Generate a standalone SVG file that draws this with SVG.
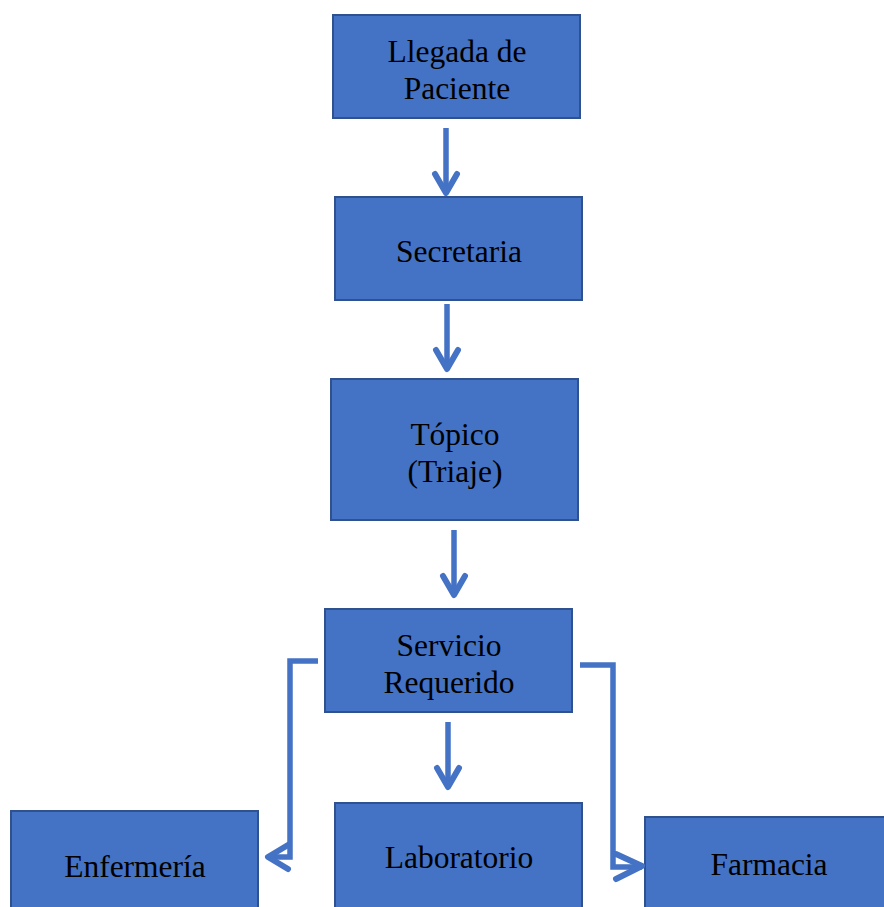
<svg xmlns="http://www.w3.org/2000/svg" width="884" height="907" viewBox="0 0 884 907">
<style>
.box{fill:#4472C4;stroke:#2F528F;stroke-width:2}
.t{font-family:"Liberation Serif","Times New Roman",serif;font-size:31.5px;fill:#000;text-anchor:middle}
.c{fill:none;stroke:#4472C4;stroke-width:5.5}
.h{fill:none;stroke:#4472C4;stroke-width:6;stroke-linecap:round;stroke-linejoin:round}
</style>
<rect width="884" height="907" fill="#fff"/>
<g id="llegada"><rect class="box" x="333" y="15" width="247" height="103"/><text class="t" x="457" y="62">Llegada de</text><text class="t" x="457" y="99">Paciente</text></g>
<g id="secretaria"><rect class="box" x="335" y="197" width="247" height="103"/><text class="t" x="459" y="262">Secretaria</text></g>
<g id="topico"><rect class="box" x="331" y="379" width="247" height="141"/><text class="t" x="455" y="445">Tópico</text><text class="t" x="455" y="482">(Triaje)</text></g>
<g id="servicio"><rect class="box" x="325" y="609" width="247" height="103"/><text class="t" x="449" y="656">Servicio</text><text class="t" x="449" y="693">Requerido</text></g>
<g id="enfermeria"><rect class="box" x="11" y="811" width="247" height="110"/><text class="t" x="135" y="877">Enfermería</text></g>
<g id="laboratorio"><rect class="box" x="335" y="803" width="247" height="118"/><text class="t" x="459" y="868">Laboratorio</text></g>
<g id="farmacia"><rect class="box" x="645" y="817" width="247" height="110"/><text class="t" x="769" y="875">Farmacia</text></g>
<g id="connectors">
<path class="c" d="M446 128V193"/><path class="h" d="M435 174L446 193L457 174"/>
<path class="c" d="M447 304V369"/><path class="h" d="M436 350L447 369L458 350"/>
<path class="c" d="M454 530V595"/><path class="h" d="M443 576L454 595L465 576"/>
<path class="c" d="M448 722V787"/><path class="h" d="M437 768L448 787L459 768"/>
<path class="c" d="M318 661H290V857H268"/><path class="h" d="M288 845L268 857L288 869"/>
<path class="c" d="M580 665H613V867H642"/><path class="h" d="M616 854L642 866L616 879"/>
</g>
</svg>
